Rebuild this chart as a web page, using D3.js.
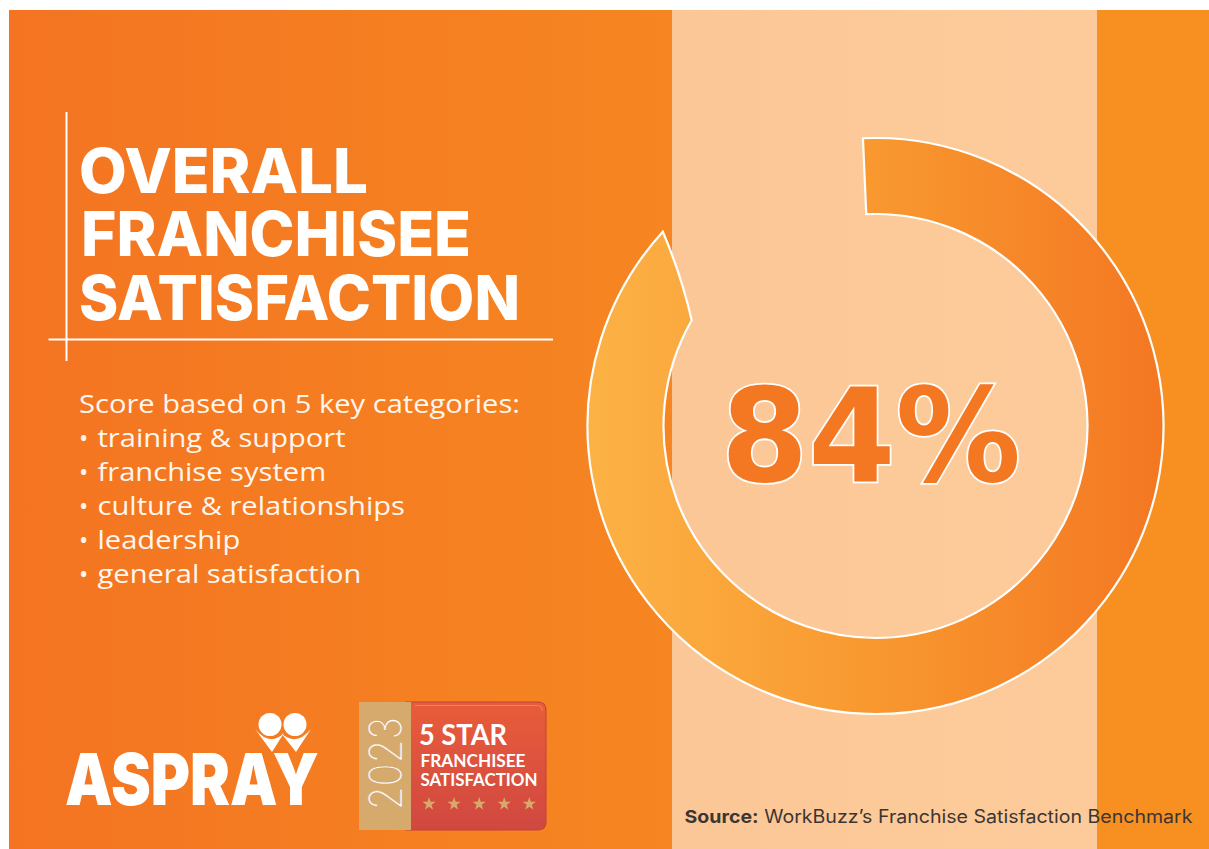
<!DOCTYPE html>
<html><head><meta charset="utf-8">
<script src="https://cdn.jsdelivr.net/npm/d3@7"></script>
<style>html,body{margin:0;padding:0;background:#fff;overflow:hidden}</style>
</head><body>
<svg id="c" width="1209" height="849"></svg>
<script>
// ---------- data ----------
const titleLines = ["OVERALL", "FRANCHISEE", "SATISFACTION"];
const introLine = "Score based on 5 key categories:";
const categories = ["training & support", "franchise system", "culture & relationships", "leadership", "general satisfaction"];
const overallScore = [84];
const scoreDomain = [0, 100];
const sourceLabel = "Source:";
const sourceName = "WorkBuzz\u2019s Franchise Satisfaction Benchmark";
const brandName = "ASPRAY";
const badgeYear = "2023";
const badgeLines = ["5 STAR", "FRANCHISEE", "SATISFACTION"];
const badgeStars = [1, 2, 3, 4, 5];

// ---------- setup ----------
const svg = d3.select("#c");
const defs = svg.append("defs");
function lin(id, x1, x2, stops, vertical) {
  const g = defs.append("linearGradient").attr("id", id).attr("gradientUnits", "userSpaceOnUse");
  if (vertical) g.attr("x1", 0).attr("x2", 0).attr("y1", x1).attr("y2", x2);
  else g.attr("x1", x1).attr("x2", x2).attr("y1", 0).attr("y2", 0);
  stops.forEach(([o, c]) => g.append("stop").attr("offset", o).attr("stop-color", c));
}
lin("gLeft", 9, 672, [[0, "#F47421"], [1, "#F68621"]]);
lin("gBand", 672, 1097, [[0, "#FCC796"], [1, "#FDCB9B"]]);
lin("gRing", 588, 1163, [[0, "#FCB245"], [0.5, "#F8982F"], [1, "#F47722"]]);
lin("gBadge", 702, 830, [[0, "#E95C3A"], [1, "#D04841"]], true);

// background panels
svg.append("rect").attr("x", 9).attr("y", 10).attr("width", 663).attr("height", 839).attr("fill", "url(#gLeft)");
svg.append("rect").attr("x", 672).attr("y", 10).attr("width", 425).attr("height", 839).attr("fill", "url(#gBand)");
svg.append("rect").attr("x", 1097).attr("y", 10).attr("width", 112).attr("height", 839).attr("fill", "#F79021");

// ---------- ring ----------
const cx = 875.5, cy = 426, R = 288, r = 212;
const angle = d3.scaleLinear().domain(scoreDomain).range([0, 2 * Math.PI]);
const startOff = -2.5 * Math.PI / 180, lean = 12.5 * Math.PI / 180;
function ringPath(v) {
  const a0 = angle(scoreDomain[0]) + startOff;
  const aIn = angle(v) + startOff;
  const aOut = aIn + lean;
  const p = d3.path();
  p.moveTo(cx + R * Math.sin(a0), cy - R * Math.cos(a0));
  p.arc(cx, cy, R, a0 - Math.PI / 2, aOut - Math.PI / 2, false);
  const ox = cx + R * Math.sin(aOut), oy = cy - R * Math.cos(aOut);
  const ix = cx + r * Math.sin(aIn), iy = cy - r * Math.cos(aIn);
  p.quadraticCurveTo((ox + ix) / 2 + 4, (oy + iy) / 2 - 1, ix, iy);
  p.arc(cx, cy, r, aIn - Math.PI / 2, a0 - Math.PI / 2, true);
  p.closePath();
  return p.toString();
}
svg.selectAll("path.ring").data(overallScore).join("path").attr("class", "ring")
  .attr("d", d => ringPath(d))
  .attr("fill", "url(#gRing)").attr("stroke", "#fff").attr("stroke-width", 2.2).attr("stroke-linejoin", "miter");

svg.selectAll("text.score").data(overallScore).join("text").attr("class", "score")
  .attr("x", 721).attr("y", 481)
  .attr("font-family", "DejaVu Sans").attr("font-weight", 700).attr("font-size", 130)
  .attr("textLength", 300).attr("lengthAdjust", "spacingAndGlyphs")
  .attr("fill", "#F47722").attr("stroke", "#fff").attr("stroke-width", 3.6).attr("paint-order", "stroke")
  .text(d => d + "%");

// ---------- title ----------
const tBase = [192.5, 256, 320];
const tWidths = [289, 390, 441];
svg.selectAll("text.title").data(titleLines).join("text").attr("class", "title")
  .attr("x", (d, i) => i === 1 ? 81 : 79).attr("y", (d, i) => tBase[i])
  .attr("font-family", "Inter, 'DejaVu Sans'").attr("font-weight", 800).attr("font-size", 62)
  .attr("textLength", (d, i) => tWidths[i]).attr("lengthAdjust", "spacingAndGlyphs")
  .attr("fill", "#fff").text(d => d);
svg.append("line").attr("x1", 66.5).attr("x2", 66.5).attr("y1", 112).attr("y2", 361).attr("stroke", "#fff").attr("stroke-width", 2);
svg.append("line").attr("x1", 48.5).attr("x2", 553).attr("y1", 339.5).attr("y2", 339.5).attr("stroke", "#fff").attr("stroke-width", 2);

// ---------- intro + categories ----------
const bodyFont = "'Open Sans', 'Noto Sans', sans-serif";
const intro = svg.append("text").attr("x", 79).attr("y", 413.3)
  .attr("font-family", bodyFont).attr("font-size", 26).attr("fill", "#FFF6EE").text(introLine);
const w0 = intro.node().getComputedTextLength();
const fsFit = 26 * 441 / w0;
const fs = Math.min(fsFit, 24.6);
intro.attr("font-size", fs).attr("textLength", 441).attr("lengthAdjust", "spacingAndGlyphs");
const widen = fsFit / fs;
const lineGap = 34;
const cats = svg.selectAll("text.cat").data(categories).join("text").attr("class", "cat")
  .attr("x", 79).attr("y", (d, i) => 413.3 + lineGap * (i + 1))
  .attr("font-family", bodyFont).attr("font-size", fs).attr("fill", "#FFF6EE");
cats.append("tspan").text("\u2022");
cats.append("tspan").attr("x", 97.5).text(d => d);
cats.each(function () {
  const t = d3.select(this).select("tspan:last-child");
  const w = t.node().getComputedTextLength();
  if (widen > 1.001) t.attr("textLength", w * widen).attr("lengthAdjust", "spacingAndGlyphs");
});

// ---------- source ----------
const src = svg.append("text").attr("x", 684.5).attr("y", 822.7)
  .attr("font-family", "Inter, 'Noto Sans', sans-serif").attr("font-size", 18).attr("fill", "#3C3633");
src.append("tspan").attr("font-weight", 700).text(sourceLabel);
src.append("tspan").attr("font-weight", 400).text(" " + sourceName);
src.attr("textLength", 508).attr("lengthAdjust", "spacingAndGlyphs");

// ---------- logo ----------
const logo = svg.append("g");
logo.append("text").attr("x", 65).attr("y", 805)
  .attr("font-family", "Inter, 'DejaVu Sans'").attr("font-weight", 900).attr("font-size", 72)
  .attr("textLength", 254).attr("lengthAdjust", "spacingAndGlyphs").attr("fill", "#fff").text(brandName);
[270, 295].forEach(x => logo.append("circle").attr("cx", x).attr("cy", 724.5).attr("r", 11.5).attr("fill", "#fff"));
logo.append("path").attr("d", "M255,729 Q270,747 284,733 L272,752 Z").attr("fill", "#fff");
logo.append("path").attr("d", "M281,733 Q296,747 311,729 L296,752 Z").attr("fill", "#fff");

// ---------- badge ----------
const bg = svg.append("g");
bg.append("path").attr("d", "M405,702 H538 Q546,702 546,710 V822 Q546,830 538,830 H405 Z")
  .attr("fill", "url(#gBadge)").attr("stroke", "#C2403A").attr("stroke-width", 1);
bg.append("path").attr("d", "M415,705.5 H537 Q542,705.5 542.5,711").attr("fill", "none").attr("stroke", "#F38A6A").attr("stroke-width", 1.2).attr("opacity", 0.8);
bg.append("rect").attr("x", 359).attr("y", 702).attr("width", 52).attr("height", 128).attr("fill", "#D6A96C");
bg.append("text").attr("transform", "translate(402,810) rotate(-90)")
  .attr("font-family", "Inter, Lato, 'Open Sans'").attr("font-weight", 200).attr("font-size", 46)
  .attr("textLength", 93).attr("lengthAdjust", "spacingAndGlyphs")
  .attr("fill", "#fff").attr("stroke", "#C9985A").attr("stroke-width", 0.4).text(badgeYear);
const bBase = [745, 766.5, 786];
const bW = [88, 105, 117];
const bFs = [29, 16.5, 16.5];
bg.selectAll("text.bl").data(badgeLines).join("text").attr("class", "bl")
  .attr("x", (d, i) => i ? 420.5 : 419).attr("y", (d, i) => bBase[i])
  .attr("font-family", "Lato, 'Open Sans', sans-serif").attr("font-weight", 700)
  .attr("font-size", (d, i) => bFs[i])
  .attr("textLength", (d, i) => bW[i]).attr("lengthAdjust", "spacingAndGlyphs")
  .attr("fill", "#fff").text(d => d);
const starX = d3.scalePoint().domain(badgeStars).range([429, 529.3]);
bg.selectAll("path.star").data(badgeStars).join("path").attr("class", "star")
  .attr("transform", d => `translate(${starX(d)},804)`)
  .attr("d", d3.symbol(d3.symbolStar, 55)).attr("fill", "#D9A96B");
</script>
</body></html>
